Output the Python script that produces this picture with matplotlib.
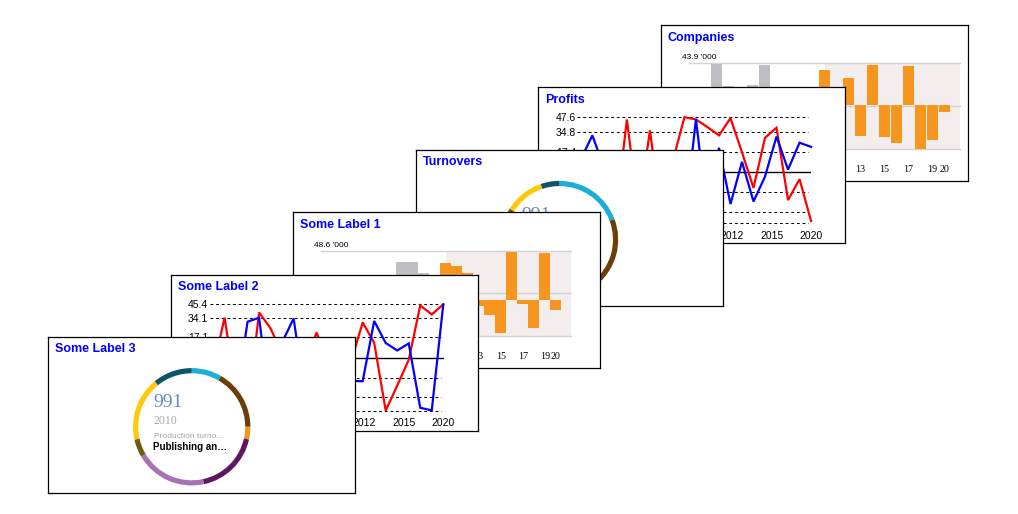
import matplotlib
matplotlib.use("Agg")
import matplotlib.pyplot as plt
import numpy as np

plt.rcParams["font.family"] = ["Liberation Sans", "DejaVu Sans"]

# ---------------- data ----------------
card_titles = ["Some Label 3", "Some Label 2", "Some Label 1", "Turnovers", "Profits", "Companies"]

# donut segments, clockwise from 12 o'clock
donut_colors = ["#1BAED6", "#6B3F06", "#F7941D", "#5F1760", "#A674B5", "#6E5B12", "#FFC80A", "#0E5468"]
donut_label3_shares = [30.0, 60.0, 12.6, 65.4, 71.3, 18.0, 63.7, 39.0]
donut_turnover_shares = [69.4, 72.0, 12.0, 60.0, 70.0, 18.6, 39.4, 18.6]
donut_value = "991"
donut_year = "2010"
donut_measure = "Production turno\u2026"
donut_category = "Publishing an\u2026"

# line charts (21 observations each)
line_red_label2 = [-10, 34.1, -29, -45, 38.5, 24.8, 3, -15, -5, 21.4, -5, -25, -3, 30,
                   12.6, -45.4, -24, -2, 44.5, 36.8, 45.4]
line_blue_label2 = [-15, -34, -34, 30.6, 34.0, -44, 13, 33.4, -34, -38, -30, -25, -20, -20.3,
                    31.2, 12.4, 6, 12, -43, -45.2, 45.4]
line_grid_label2 = [45.4, 34.1, 17.1, -17.1, -34.1, -45.4]

line_red_profits = [5, -10, -20, -40, 45.6, -35, 36.1, -38, 10, 47.6, 45.6, 39, 31.8, 46.8,
                    17, -13.9, 29.7, 38.4, -24.5, -6.3, -42.7]
line_blue_profits = [11, 31.8, 4, -20, 19, -10, -25, -30, -20, -44.8, 46.1, -40, 21, -28,
                     8.8, -25.8, -4, 30.8, 2, 25.4, 21.8]
line_grid_profits = [47.6, 34.8, 17.4, -17.4, -34.8, -44.8]

line_tick_pos = [13.16, 16.6, 20.0]
line_tick_labels = ["2012", "2015", "2020"]

# bar charts
bar_years = list(range(2000, 2021))
bar_companies = [10, 43.9, 20, 12, 21, 42.4, 15, 5, -10, 8, 36.8, -20, 28.4, -32.3, 42.4,
                 -33.4, -39.7, 41.1, -45.3, -36.5, -7.1]
bar_label1 = [12, 8, 15, 5, 18, 10, 37.7, 37.7, 26.8, 18, 36.7, 33.4, 26.8, -6.2, -15.6,
              -33.4, 47.6, -4.7, -27.8, 46.6, -10.6]
bar_forecast_start = 2010
bar_companies_unit = "43.9 '000"
bar_label1_unit = "48.6 '000"
bar_companies_range = (-45.3, 43.9)
bar_label1_range = (-36.1, 48.6)

# ---------------- layout helpers ----------------
W, H = 1018, 514
fig = plt.figure(figsize=(W / 100, H / 100), dpi=100)

CARD_W, CARD_H = 307, 156


def frac(x, y, w, h):
    return [x / W, 1 - (y + h) / H, w / W, h / H]


def card_origin(p):
    return 48 + 122.6 * p, 337 - 62.4 * p


def add_card(p, title):
    x0, y0 = card_origin(p)
    z = 10 * (6 - p)
    ax = fig.add_axes(frac(x0, y0, CARD_W, CARD_H), zorder=z)
    ax.set_xticks([])
    ax.set_yticks([])
    ax.set_facecolor("white")
    for s in ax.spines.values():
        s.set_edgecolor("black")
        s.set_linewidth(0.9)
    ax.text(7 / CARD_W, 1 - 15.5 / CARD_H, title, transform=ax.transAxes, fontsize=9,
            fontweight="bold", color="#0000FF", va="baseline", ha="left")
    return ax, x0, y0, z


def card_text(cax, rx, ry, s, **kw):
    cax.text(rx / CARD_W, 1 - ry / CARD_H, s, transform=cax.transAxes, **kw)


def sub_axes(x0, y0, z, rx, ry, rw, rh):
    ax = fig.add_axes(frac(x0 + rx, y0 + ry, rw, rh), zorder=z + 1)
    ax.patch.set_alpha(0)
    return ax


def draw_donut(p, title, shares):
    cax, x0, y0, z = add_card(p, title)
    R = 58.7
    cx, cy = 143.7, 89.8
    ax = sub_axes(x0, y0, z, cx - R, cy - R, 2 * R, 2 * R)
    ax.pie(shares, colors=donut_colors, startangle=90, counterclock=False, radius=1.0,
           wedgeprops=dict(width=5.2 / R, edgecolor="none", linewidth=0))
    ax.set_xlim(-1, 1)
    ax.set_ylim(-1, 1)
    ax.set_aspect("equal")
    ax.axis("off")
    card_text(cax, 105.5, 69.7, donut_value, fontsize=14, color="#6B8CAE",
              family=["Liberation Serif"], va="baseline")
    card_text(cax, 105.8, 86.7, donut_year, fontsize=8.5, color="#A8A8A8",
              family=["Liberation Serif"], va="baseline")
    card_text(cax, 106, 100.7, donut_measure, fontsize=6, color="#A3A3A3", va="baseline")
    card_text(cax, 105, 113.3, donut_category, fontsize=7, color="black",
              fontweight="bold", va="baseline")


def draw_line(p, title, red, blue, grid):
    cax, x0, y0, z = add_card(p, title)
    ax = sub_axes(x0, y0, z, 39, 29.8, 234, 106.2)
    idx = np.arange(len(red))
    ax.set_xlim(-0.3, 20.03)
    ax.set_ylim(min(grid), max(grid))
    for g in grid:
        ax.axhline(g, xmin=0, xmax=0.987, color="black", lw=0.75, ls=(0, (2.7, 2.7)),
                   zorder=1, clip_on=False)
    ax.axhline(0, color="black", lw=1.0, zorder=1)
    ax.plot(idx, red, color="#FF0000", lw=1.6, clip_on=False, zorder=2,
            solid_joinstyle="miter")
    ax.plot(idx, blue, color="#0000FF", lw=1.6, clip_on=False, zorder=3,
            solid_joinstyle="miter")
    ax.set_yticks(grid)
    ax.set_yticklabels([f"{g:.1f}" for g in grid])
    ax.tick_params(axis="y", length=0, pad=1.0, labelsize=7.5)
    ax.set_xticks(line_tick_pos)
    ax.set_xticklabels(line_tick_labels)
    ax.tick_params(axis="x", length=0, pad=5.3, labelsize=7.5)
    for s in ax.spines.values():
        s.set_visible(False)


def draw_bar(p, title, values, yrange, unit_label, rx0, rx1, bar_w):
    cax, x0, y0, z = add_card(p, title)
    ax = sub_axes(x0, y0, z, rx0, 38.5, rx1 - rx0, 85.2)
    years = np.array(bar_years)
    right = years[-1] + 1.33
    ax.set_xlim(years[0] - 1.33, right)
    ax.set_ylim(*yrange)
    ax.axvspan(bar_forecast_start, right, color="#F3EDED", zorder=0, lw=0)
    for f in (0.0, 0.5, 1.0):
        ax.axhline(yrange[0] + f * (yrange[1] - yrange[0]), color="#D2D2D2", lw=1.0,
                   zorder=1, clip_on=False)
    colors = ["#BEBFC3" if y < bar_forecast_start else "#F7961E" for y in years]
    ax.bar(years, values, width=bar_w, color=colors, zorder=2, linewidth=0)
    ticks = [y for y in years if y % 2 == 1] + [years[-1]]
    ax.set_xticks(ticks)
    ax.set_xticklabels([f"{y % 100:02d}" for y in ticks], family=["Liberation Serif"])
    ax.tick_params(axis="x", length=0, pad=11.5, labelsize=7.2)
    ax.set_yticks([])
    for s in ax.spines.values():
        s.set_visible(False)
    card_text(cax, 20.5, 34.3, unit_label, fontsize=6, color="black", va="baseline")


# back to front
draw_bar(5, card_titles[5], bar_companies, bar_companies_range, bar_companies_unit, 28, 299, 0.917)
draw_line(4, card_titles[4], line_red_profits, line_blue_profits, line_grid_profits)
draw_donut(3, card_titles[3], donut_turnover_shares)
draw_bar(2, card_titles[2], bar_label1, bar_label1_range, bar_label1_unit, 27.3, 277.3, 1.0)
draw_line(1, card_titles[1], line_red_label2, line_blue_label2, line_grid_label2)
draw_donut(0, card_titles[0], donut_label3_shares)

fig.savefig("out.png", dpi=100, facecolor="white")
